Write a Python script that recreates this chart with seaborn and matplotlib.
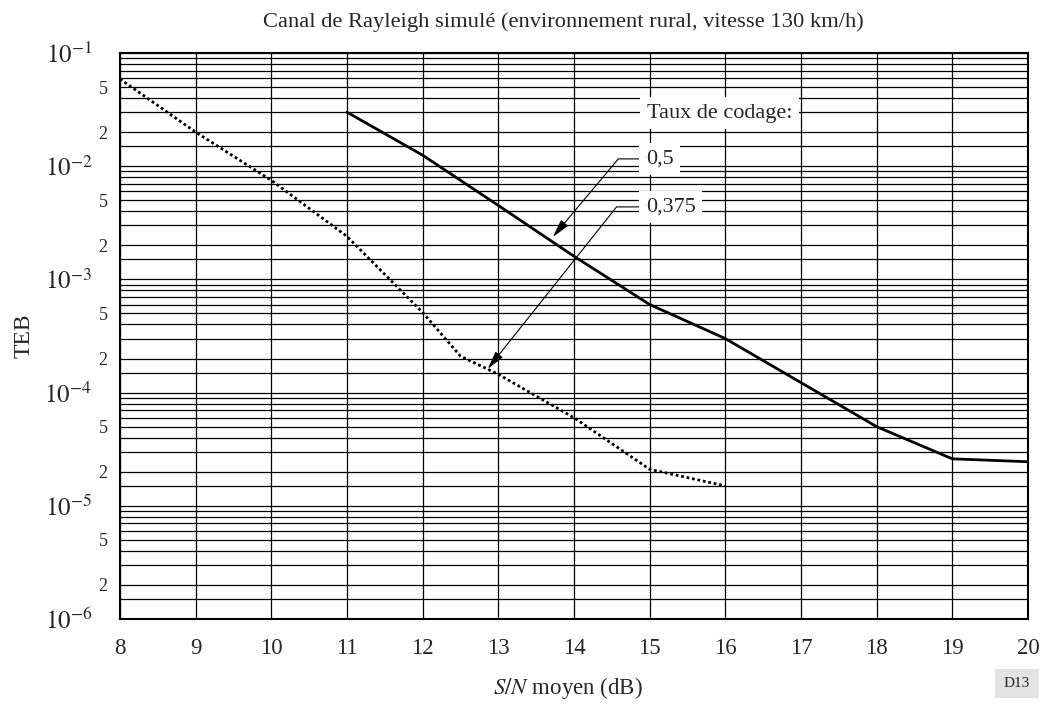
import numpy as np
import pandas as pd
import seaborn as sns
import matplotlib.pyplot as plt
from matplotlib.ticker import FixedLocator, FuncFormatter

# values (S/N in dB, TEB)
snr_rate_05 = [11, 12, 13, 14, 15, 16, 18, 19, 20]
teb_rate_05 = [3.0e-2, 1.25e-2, 4.5e-3, 1.6e-3, 6.0e-4, 3.0e-4, 5.0e-5, 2.6e-5, 2.45e-5]

snr_rate_0375 = [8, 9, 10, 11, 12, 12.5, 13, 14, 15, 16]
teb_rate_0375 = [5.9e-2, 2.0e-2, 7.5e-3, 2.4e-3, 5.1e-4, 2.1e-4, 1.45e-4, 6.0e-5, 2.1e-5, 1.5e-5]

x_ticks = list(range(8, 21))
decades = [1e-6, 1e-5, 1e-4, 1e-3, 1e-2, 1e-1]
minor_mantissas = [1.5, 2, 3, 4, 5, 6, 7, 8, 9]
labelled_mantissas = [2, 5]

df_05 = pd.DataFrame({'snr': snr_rate_05, 'teb': teb_rate_05})
df_0375 = pd.DataFrame({'snr': snr_rate_0375, 'teb': teb_rate_0375})

sns.set_theme(style='white')
plt.rcParams['font.family'] = ['Liberation Serif', 'DejaVu Serif']
plt.rcParams['mathtext.fontset'] = 'stix'

fig, ax = plt.subplots(figsize=(10.47, 7.04), dpi=100)
fig.subplots_adjust(left=120 / 1047, right=1028 / 1047, top=1 - 53 / 704, bottom=1 - 619 / 704)

sns.lineplot(data=df_05, x='snr', y='teb', ax=ax, color='black', lw=2.0,
             estimator=None, sort=False, zorder=4)
sns.lineplot(data=df_0375, x='snr', y='teb', ax=ax, color='black', lw=2.0,
             linestyle=(0, (1, 1)), estimator=None, sort=False, zorder=4)

ax.set_yscale('log')
ax.set_xlim(8, 20)
ax.set_ylim(1e-6, 1e-1)

# grid
ax.xaxis.set_major_locator(FixedLocator(x_ticks))
ax.yaxis.set_major_locator(FixedLocator(decades))
minor_pos = [m * d for d in decades[:-1] for m in minor_mantissas]
ax.yaxis.set_minor_locator(FixedLocator(minor_pos))


def major_fmt(v, pos):
    return r'$10^{%d}$' % int(round(np.log10(v)))


def minor_fmt(v, pos):
    m = v / 10 ** np.floor(np.log10(v) + 1e-9)
    for lm in labelled_mantissas:
        if abs(m - lm) < 1e-6:
            return str(lm)
    return ''


ax.yaxis.set_major_formatter(FuncFormatter(major_fmt))
ax.yaxis.set_minor_formatter(FuncFormatter(minor_fmt))

ax.grid(True, which='major', axis='both', color='black', lw=0.9)
ax.grid(True, which='minor', axis='y', color='black', lw=0.9)
ax.set_axisbelow(True)

ax.tick_params(axis='x', which='major', length=0, pad=14, labelsize=16.5)
ax.tick_params(axis='y', which='major', length=0, pad=20, labelsize=18)
ax.tick_params(axis='y', which='minor', length=0, pad=9, labelsize=13)

for sp in ax.spines.values():
    sp.set_color('black')
    sp.set_linewidth(1.5)

ax.set_xlabel('')
ax.set_ylabel('TEB', fontsize=17)
ax.yaxis.set_label_coords(-0.094, 0.5)

fig.text(563 / 1047, 1 - 22 / 704, 'Canal de Rayleigh simulé (environnement rural, vitesse 130 km/h)',
         ha='center', va='center', fontsize=16.2)
fig.text(568 / 1047, 1 - 688 / 704, r'$S/N$ moyen (dB)', ha='center', va='center', fontsize=16.5)
fig.text(1017 / 1047, 1 - 682 / 704, 'D13', ha='center', va='center_baseline', fontsize=11,
         bbox=dict(boxstyle='square,pad=0.55', fc='#e3e3e3', ec='none'))

# legend-like annotations
white_box = dict(boxstyle='square,pad=0.3', fc='white', ec='none')
ax.text(14.96, 2.95e-2, 'Taux de codage:', ha='left', va='center', fontsize=16,
        bbox=white_box, zorder=5)

arrow = dict(arrowstyle='-|>,head_length=0.8,head_width=0.2', color='black', lw=0.8,
             mutation_scale=14, shrinkA=0, shrinkB=0)
ax.annotate('0,5', xy=(13.72, 2.37e-3), xytext=(14.95, 1.16e-2), ha='left', va='center',
            fontsize=16, bbox=white_box, zorder=5,
            arrowprops=dict(arrow, connectionstyle='angle,angleA=0,angleB=50,rad=0'))
ax.annotate('0,375', xy=(12.86, 1.62e-4), xytext=(14.95, 4.37e-3), ha='left', va='center',
            fontsize=16, bbox=white_box, zorder=5,
            arrowprops=dict(arrow, connectionstyle='angle,angleA=0,angleB=51.5,rad=0'))

fig.savefig('out.png', dpi=100)
